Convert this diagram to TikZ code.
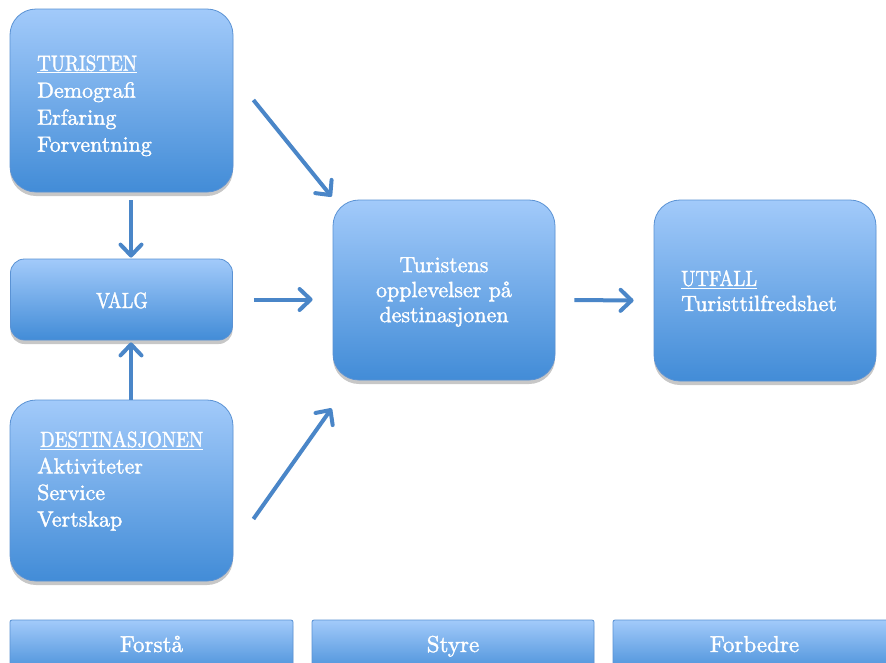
\documentclass[tikz,border=0pt]{standalone}
\usetikzlibrary{arrows.meta,shadows,calc}
\usepackage{graphicx}
\usepackage{fontspec}
\setmainfont{lmroman10-regular.otf}[FakeBold=1.6]
\definecolor{boxtop}{RGB}{162,202,250}
\definecolor{boxbot}{RGB}{66,140,215}
\definecolor{boxline}{RGB}{90,146,212}
\definecolor{arrowc}{RGB}{74,134,200}
\newcommand{\capsx}[1]{\scalebox{0.86}[1]{#1}}
\begin{document}
\begin{tikzpicture}[x=1pt, y=-1pt,
  box/.style={draw=boxline, line width=0.8pt, top color=boxtop, bottom color=boxbot,
    rounded corners=26pt, inner sep=0pt,
    drop shadow={shadow xshift=0pt, shadow yshift=-4pt, fill=black, opacity=0.22}},
  barbox/.style={box, rounded corners=2pt},
  txt/.style={text=white, inner sep=0pt, align=left, font=\fontsize{22}{27}\selectfont},
  arr/.style={draw=arrowc, line width=4pt,
    -{Straight Barb[length=11pt,width=21pt,round]}}]
\useasboundingbox (0,0) rectangle (886,662);
\clip (0,0) rectangle (886,662);
\fill[white] (0,0) rectangle (886,662);

% boxes
\node[box, minimum width=223pt, minimum height=183pt] (tur) at (121.5,100.5) {};
\node[box, rounded corners=14pt, minimum width=222pt, minimum height=81pt] (valg) at (121.5,299.5) {};
\node[box, minimum width=223pt, minimum height=181pt] (dest) at (121.5,490.5) {};
\node[box, minimum width=222pt, minimum height=180pt] (ctr) at (444,290) {};
\node[box, minimum width=222pt, minimum height=181pt] (utf) at (765,290.5) {};

% bottom bars
\node[barbox, minimum width=283pt, minimum height=56pt] (bar1) at (151.5,648) {};
\node[barbox, minimum width=282pt, minimum height=56pt] (bar2) at (453,648) {};
\node[barbox, minimum width=283pt, minimum height=56pt] (bar3) at (754.5,648) {};

% texts
\node[txt, anchor=north west] (t1) at (37,55)
  {\underline{\capsx{TURISTEN}}\\Demografi\\Erfaring\\Forventning};
\node[txt, anchor=base] (t2) at (122,308) {\scalebox{0.84}[1]{VALG}};
\node[txt, anchor=north west, font=\fontsize{22}{26.5}\selectfont] (t3) at (37,431)
  {\hspace{3pt}\underline{\capsx{DESTINASJONEN}}\\Aktiviteter\\Service\\Vertskap};
\node[txt, anchor=north, align=center, font=\fontsize{22}{25}\selectfont] (t4) at (444,257)
  {Turistens\\opplevelser på\\destinasjonen};
\node[txt, anchor=north west, font=\fontsize{22}{25}\selectfont] (t5) at (681,270)
  {\underline{\capsx{UTFALL}}\\Turisttilfredshet};
\node[txt, anchor=base, font=\fontsize{23}{27}\selectfont] (b1) at (151.5,652) {Forstå};
\node[txt, anchor=base, font=\fontsize{23}{27}\selectfont] (b2) at (453,652) {Styre};
\node[txt, anchor=base, font=\fontsize{23}{27}\selectfont] (b3) at (754.5,652) {Forbedre};

% connectors
\draw[arr] ($(tur.east)+(20,-0.5)$) -- ($(ctr.north west)+(-1,-3)$);
\draw[arr, shorten <=21pt, shorten >=20pt] (valg.east) -- (valg.east -| ctr.west);
\draw[arr] ($(dest.east)+(20,28.5)$) -- ($(ctr.south west)+(-1,28)$);
\draw[arr, shorten <=19pt, shorten >=20pt] ([yshift=-10pt]ctr.east) -- ([yshift=-10pt]utf.west);
\draw[arr, shorten <=8pt, shorten >=1pt] ([xshift=9.5pt]tur.south) -- ([xshift=9.5pt]valg.north);
\draw[arr, shorten <=0pt, shorten >=2pt] ([xshift=9.5pt]dest.north) -- ([xshift=9.5pt]valg.south);
\end{tikzpicture}
\end{document}
